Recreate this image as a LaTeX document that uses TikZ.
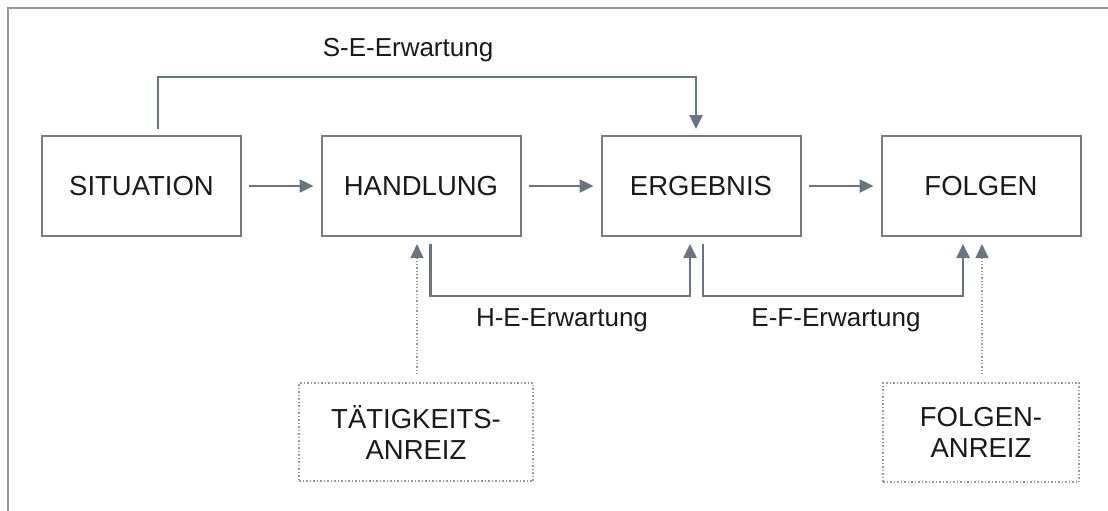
\documentclass[tikz,border=0pt]{standalone}
\usepackage{fontspec}
\setmainfont{Liberation Sans}
\usetikzlibrary{arrows.meta}
\definecolor{boxgray}{HTML}{7A7A7A}
\definecolor{arrgray}{HTML}{6B757F}
\definecolor{dotgray}{HTML}{9A9A9A}
\definecolor{txt}{HTML}{1A1A1A}
\definecolor{framegray}{HTML}{999999}
\tikzset{
  mainbox/.style={draw=boxgray, line width=2pt, minimum width=199pt, minimum height=100pt, inner sep=0pt, text=txt, font=\fontsize{27.5}{31}\selectfont},
  incbox/.style={draw=dotgray, line width=1.5pt, dotted, inner sep=0pt, text=txt, align=center, font=\fontsize{27.5}{31}\selectfont},
  arr/.style={draw=arrgray, line width=2.5pt, -{Triangle[length=14pt,width=13pt]}},
  dotarr/.style={draw=dotgray, line width=1.3pt, dotted, -{Triangle[length=14pt,width=13pt,fill=arrgray,color=arrgray]}},
  lbl/.style={text=txt, font=\fontsize{26}{30}\selectfont, inner sep=0pt}
}
\begin{document}
\begin{tikzpicture}[x=1pt,y=-1pt]
\useasboundingbox (0,0) rectangle (1108,511);
\fill[white] (0,0) rectangle (1108,511);
\draw[framegray, line width=2.2pt] (1108,8) -- (8,8) -- (8,511);

\node[mainbox] (s) at (141.5,186) {SITUATION};
\node[mainbox] (h) at (421,186) {HANDLUNG};
\node[mainbox] (e) at (701,186) {ERGEBNIS};
\node[mainbox] (f) at (981,186) {FOLGEN};

\node[incbox, minimum width=234pt, minimum height=98pt] (ta) at (416,432) {TÄTIGKEITS-\\ANREIZ};
\node[incbox, minimum width=196pt, minimum height=99pt] (fa) at (981,432.5) {FOLGEN-\\ANREIZ};

\draw[arr, shorten <=7pt, shorten >=7pt] (s) -- (h);
\draw[arr, shorten <=7pt, shorten >=7pt] (h) -- (e);
\draw[arr, shorten <=7pt, shorten >=7pt] (e) -- (f);

\coordinate (se1) at ([xshift=16.5pt,yshift=6pt]s.north);
\coordinate (se2) at ([xshift=-5pt,yshift=6pt]e.north);
\draw[arr] (se1) -- ++(0,-52) -| (se2);

\coordinate (he1) at ([xshift=9.5pt,yshift=-7pt]h.south);
\coordinate (he2) at ([xshift=-11pt,yshift=-7pt]e.south);
\draw[arr] (he1) -- ++(0,52) -| (he2);

\coordinate (ef1) at ([xshift=2pt,yshift=-7pt]e.south);
\coordinate (ef2) at ([xshift=-18pt,yshift=-7pt]f.south);
\draw[arr] (ef1) -- ++(0,52) -| (ef2);

\coordinate (ta1) at ([xshift=1pt,yshift=8pt]ta.north);
\coordinate (ta2) at ([xshift=-4pt,yshift=-7pt]h.south);
\draw[dotarr] (ta1) -- (ta2);

\coordinate (fa1) at ([xshift=1pt,yshift=8pt]fa.north);
\coordinate (fa2) at ([xshift=1pt,yshift=-7pt]f.south);
\draw[dotarr] (fa1) -- (fa2);

\node[lbl] (lse) at (408,50) {S-E-Erwartung};
\node[lbl] (lhe) at (562,320) {H-E-Erwartung};
\node[lbl] (lef) at (836,320) {E-F-Erwartung};
\end{tikzpicture}
\end{document}
